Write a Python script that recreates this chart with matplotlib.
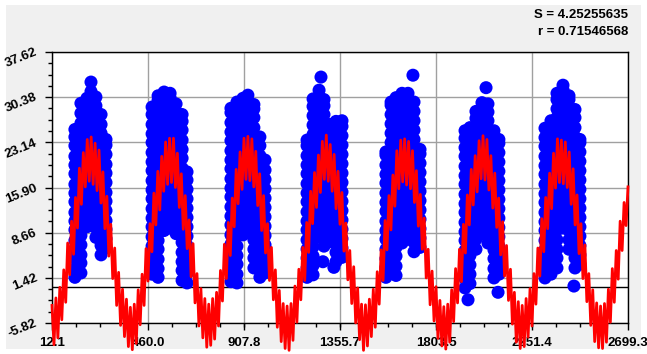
import numpy as np
import matplotlib.pyplot as plt
from matplotlib.patches import Rectangle
from matplotlib.ticker import AutoMinorLocator

plt.rcParams['font.family'] = ['Liberation Sans', 'DejaVu Sans']

# axis labels
x_labels = ["12.1", "460.0", "907.8", "1355.7", "1803.5", "2251.4", "2699.3"]
y_labels = ["-5.82", "1.42", "8.66", "15.90", "23.14", "30.38", "37.62"]

# fit statistics
s_value = "4.25255635"
r_value = "0.71546568"

# red model line, one list per year
red_year1 = [-3.0, -9.3, -1.8, -8.2, -0.1, -5.3, 2.7, -2.5, 7.0, 1.9, 10.5, 5.2, 14.3, 9.4, 19.0, 13.2, 21.5, 16.0, 23.6, 16.9,
             24.0, 16.4, 23.0, 15.4, 21.9, 13.4, 18.4, 9.3, 14.5, 4.9, 10.0, 1.3, 6.2, -3.0, 2.3, -6.2, -0.4, -8.0, -2.0, -9.6]
red_year2 = [-3.3, -10.1, -2.8, -9.1, -0.5, -6.1, 2.0, -3.0, 6.1, 0.9, 10.1, 5.6, 15.0, 9.9, 18.5, 12.3, 20.9, 15.3, 23.2, 16.4,
             23.8, 16.7, 23.8, 15.9, 21.4, 12.7, 18.1, 9.2, 14.6, 6.1, 10.7, 1.6, 6.9, -2.6, 2.1, -6.3, -0.3, -8.2, -1.9, -9.7]
red_year3 = [-2.8, -9.4, -1.9, -8.4, -0.9, -6.3, 2.6, -2.3, 6.8, 1.3, 10.3, 5.0, 14.2, 9.6, 18.8, 13.3, 21.6, 15.6, 23.8, 17.2,
             24.1, 17.0, 23.7, 16.0, 21.7, 13.0, 18.1, 9.0, 14.6, 5.4, 10.1, 1.0, 6.3, -2.1, 2.7, -6.5, -0.6, -8.8, -2.7, -9.9]
red_year4 = [-3.1, -10.2, -2.7, -8.6, 0.1, -5.7, 2.8, -2.1, 6.3, 1.0, 10.3, 5.5, 15.3, 10.1, 18.3, 12.7, 21.1, 15.1, 23.3, 17.2,
             24.3, 16.9, 22.8, 15.3, 21.2, 12.5, 18.5, 10.0, 15.1, 5.7, 10.2, 1.1, 5.8, -2.7, 3.2, -5.8, -0.2, -8.5, -2.8, -10.2]
red_year5 = [-2.9, -9.5, -2.0, -8.0, -0.4, -6.5, 2.4, -2.8, 5.9, 1.0, 10.6, 5.9, 14.6, 9.1, 17.9, 12.9, 21.8, 15.7, 23.5, 16.8,
             23.7, 16.3, 23.3, 15.7, 21.8, 13.5, 18.6, 9.7, 14.8, 6.0, 11.0, 1.4, 6.0, -2.9, 2.5, -5.5, 0.0, -8.3, -2.2, -9.5]
red_year6 = [-3.2, -10.0, -2.8, -8.9, -0.5, -5.6, 2.9, -2.6, 6.0, 0.8, 10.0, 5.4, 14.7, 9.9, 18.8, 13.1, 21.0, 15.2, 23.4, 17.3,
             24.2, 17.1, 23.6, 15.5, 21.0, 12.6, 18.2, 9.5, 14.2, 5.1, 10.4, 1.7, 6.6, -2.2, 2.8, -6.0, -0.9, -8.9, -2.4, -9.9]
red_year7 = [-3.0, -9.6, -1.9, -8.1, -0.3, -6.3, 2.1, -2.8, 6.2, 1.7, 10.9, 5.6, 14.3, 9.3, 18.2, 12.5, 21.4, 15.8, 23.7, 16.7,
             23.5, 16.5, 23.2, 15.9, 21.6, 13.2, 18.9, 9.9, 14.7, 5.3, 10.1, 1.3, 6.7, -2.4, 2.1, -6.2, -0.5, -8.8, -2.6, -9.8]
red_year8 = [-3.1, -9.9, -2.7, -8.9, -0.4, -5.7, 2.9, -2.5, 5.8, 1.2, 10.5, 5.8, 13.5, 9.8, 16.0]

# blue observations: per season the sample days and the values seen on each day
season1_days = [119, 147, 175, 194, 217, 241, 264]
season1_obs = [
    [1.5, 2.9, 4.6, 6.0, 7.4, 9.1, 10.5, 11.9, 13.6, 15.0, 16.4, 18.1, 19.5, 20.9, 22.6, 24.0, 25.2],
    [2.2, 3.8, 5.1, 6.7, 8.2, 9.6, 11.3, 12.7, 14.2, 15.8, 17.1, 18.7, 20.2, 21.6, 23.3, 24.7, 26.2, 27.8, 29.4],
    [9.6, 11.0, 12.6, 14.1, 15.5, 17.2, 18.6, 20.1, 21.7, 23.0, 24.6, 26.1, 27.5, 29.1, 30.2],
    [10.4, 11.9, 13.3, 14.9, 16.4, 17.8, 19.4, 20.9, 22.3, 23.9, 25.4, 26.8, 28.4, 29.9, 31.3, 32.8],
    [7.9, 9.4, 11.0, 12.5, 13.9, 15.5, 17.0, 18.4, 20.0, 21.5, 22.9, 24.5, 26.0, 27.4, 29.0, 30.4],
    [5.1, 6.6, 8.0, 9.6, 11.1, 12.5, 14.1, 15.6, 17.0, 18.6, 20.1, 21.5, 23.1, 24.6, 26.0, 27.6],
    [6.2, 7.7, 9.2, 10.6, 12.2, 13.7, 15.1, 16.7, 18.2, 19.6, 21.2, 22.7, 23.6],
]
season2_days = [479, 507, 535, 563, 591, 619, 642]
season2_obs = [
    [2.0, 3.5, 5.1, 6.5, 8.0, 9.6, 11.0, 12.5, 14.1, 15.5, 17.0, 18.6, 20.0, 21.5, 23.1, 24.5, 26.0, 27.6, 28.8],
    [1.5, 2.9, 4.4, 6.0, 7.4, 8.9, 10.5, 11.9, 13.4, 15.0, 16.4, 17.9, 19.5, 20.9, 22.4, 24.0, 25.4, 26.9, 28.5, 29.9, 30.6],
    [9.0, 10.6, 12.0, 13.5, 15.1, 16.5, 18.0, 19.6, 21.0, 22.5, 24.1, 25.5, 27.0, 28.6, 30.0, 31.2],
    [9.4, 10.8, 12.3, 13.9, 15.3, 16.8, 18.4, 19.8, 21.3, 22.9, 24.3, 25.8, 27.4, 28.8, 30.3, 31.0],
    [8.5, 10.0, 11.6, 13.0, 14.5, 16.1, 17.5, 19.0, 20.6, 22.0, 23.5, 25.1, 26.5, 28.0, 29.3],
    [1.0, 2.6, 4.0, 5.5, 7.1, 8.5, 10.0, 11.6, 13.0, 14.5, 16.1, 17.5, 19.0, 20.6, 22.0, 23.5, 25.1, 26.5, 27.6],
    [0.6, 2.1, 3.6, 5.1, 6.6, 8.1, 9.6, 11.1, 12.6, 14.1, 15.6, 17.1, 18.4],
]
season3_days = [847, 875, 903, 926, 954, 982, 1006]
season3_obs = [
    [0.8, 2.3, 3.8, 5.4, 6.8, 8.3, 9.9, 11.3, 12.8, 14.4, 15.8, 17.3, 18.9, 20.3, 21.8, 23.4, 24.8, 26.3, 27.9, 28.6],
    [0.6, 2.0, 3.6, 5.0, 6.5, 8.1, 9.5, 11.0, 12.6, 14.0, 15.5, 17.1, 18.5, 20.0, 21.6, 23.0, 24.5, 26.1, 27.5, 29.0, 29.6],
    [8.3, 9.8, 11.4, 12.8, 14.3, 15.9, 17.3, 18.8, 20.4, 21.8, 23.3, 24.9, 26.3, 27.8, 29.4, 30.2],
    [8.8, 10.3, 11.8, 13.3, 14.8, 16.3, 17.8, 19.3, 20.8, 22.3, 23.8, 25.3, 26.8, 28.3, 29.8, 30.7],
    [3.0, 4.6, 6.0, 7.5, 9.1, 10.5, 12.0, 13.6, 15.0, 16.5, 18.1, 19.5, 21.0, 22.6, 24.0, 25.5, 27.1, 28.5, 29.2],
    [1.5, 3.0, 4.6, 6.0, 7.5, 9.1, 10.5, 12.0, 13.6, 15.0, 16.5, 18.1, 19.5, 21.0, 22.6, 24.0],
    [2.2, 3.7, 5.2, 6.7, 8.2, 9.7, 11.2, 12.7, 14.2, 15.7, 17.2, 18.7, 20.3],
]
season4_days = [1202, 1230, 1258, 1281, 1309, 1337, 1365]
season4_obs = [
    [1.5, 3.0, 4.6, 6.0, 7.5, 9.1, 10.5, 12.0, 13.6, 15.0, 16.5, 18.1, 19.5, 21.0, 22.6, 23.5],
    [1.9, 3.4, 4.9, 6.4, 7.9, 9.4, 10.9, 12.4, 13.9, 15.4, 16.9, 18.4, 19.9, 21.4, 22.9, 24.4, 25.9, 27.4, 28.9, 30.1],
    [8.0, 9.5, 11.1, 12.5, 14.0, 15.6, 17.0, 18.5, 20.1, 21.5, 23.0, 24.6, 26.0, 27.5, 29.1, 30.5, 31.5],
    [6.5, 8.1, 9.6, 11.0, 12.6, 14.1, 15.5, 17.1, 18.6, 20.0, 21.6, 23.1, 24.5, 26.1, 27.6, 29.0, 30.0],
    [7.2, 8.7, 10.2, 11.7, 13.2, 14.7, 16.2, 17.7, 19.2, 20.7, 22.2, 23.7, 25.2, 26.0],
    [4.0, 5.5, 7.1, 8.5, 10.0, 11.6, 13.0, 14.5, 16.1, 17.5, 19.0, 20.6, 22.0, 23.5, 25.1, 26.5],
    [4.7, 6.2, 7.7, 9.2, 10.7, 12.2, 13.7, 15.2, 16.7, 18.2, 19.7, 21.2, 22.7, 24.2, 25.7, 26.6],
]
season5_days = [1570, 1594, 1617, 1645, 1673, 1701, 1729]
season5_obs = [
    [1.5, 3.1, 4.5, 6.0, 7.6, 9.0, 10.5, 12.1, 13.5, 15.0, 16.6, 18.0, 19.5, 21.1, 21.6],
    [2.1, 3.6, 5.1, 6.6, 8.1, 9.6, 11.1, 12.6, 14.1, 15.6, 17.1, 18.6, 20.1, 21.6, 23.1, 24.6, 26.1, 27.6, 29.1, 29.6],
    [1.8, 3.3, 4.9, 6.3, 7.8, 9.4, 10.8, 12.3, 13.9, 15.3, 16.8, 18.4, 19.8, 21.3, 22.9, 24.3, 25.8, 27.4, 28.8, 30.3],
    [7.0, 8.6, 10.0, 11.5, 13.1, 14.5, 16.0, 17.6, 19.0, 20.5, 22.1, 23.5, 25.0, 26.6, 28.0, 29.5, 31.0],
    [7.6, 9.1, 10.6, 12.1, 13.6, 15.1, 16.6, 18.1, 19.6, 21.1, 22.6, 24.1, 25.6, 27.1, 28.6, 30.1, 31.0],
    [5.6, 7.1, 8.6, 10.1, 11.6, 13.1, 14.6, 16.1, 17.6, 19.1, 20.6, 22.1, 23.6, 25.1, 26.6, 28.1, 29.6],
    [6.3, 7.8, 9.3, 10.8, 12.3, 13.8, 15.3, 16.8, 18.3, 19.8, 21.3, 22.0],
]
season6_days = [1939, 1962, 1990, 2018, 2046, 2074, 2097]
season6_obs = [
    [-0.2, 1.3, 2.9, 4.3, 5.8, 7.4, 8.8, 10.3, 11.9, 13.3, 14.8, 16.4, 17.8, 19.3, 20.9, 22.3, 23.8, 25.0],
    [0.5, 2.0, 3.5, 5.0, 6.5, 8.0, 9.5, 11.0, 12.5, 14.0, 15.5, 17.0, 18.5, 20.0, 21.5, 23.0, 24.5, 25.5],
    [6.0, 7.6, 9.0, 10.5, 12.1, 13.5, 15.0, 16.6, 18.0, 19.5, 21.1, 22.5, 24.0, 25.6, 27.0, 28.1],
    [8.5, 10.0, 11.5, 13.0, 14.5, 16.0, 17.5, 19.0, 20.5, 22.0, 23.5, 25.0, 26.5, 28.0, 29.5],
    [7.0, 8.6, 10.0, 11.5, 13.1, 14.5, 16.0, 17.6, 19.0, 20.5, 22.1, 23.5, 25.0, 26.6, 28.0, 29.3],
    [1.4, 2.9, 4.5, 5.9, 7.4, 9.0, 10.4, 11.9, 13.5, 14.9, 16.4, 18.0, 19.4, 20.9, 22.5, 23.9, 25.0],
    [2.0, 3.5, 5.0, 6.5, 8.0, 9.5, 11.0, 12.5, 14.0, 15.5, 17.0, 18.5, 20.0, 21.5, 23.0, 23.6],
]
season7_days = [2312, 2340, 2368, 2396, 2424, 2452, 2475]
season7_obs = [
    [1.4, 2.9, 4.5, 5.9, 7.4, 9.0, 10.4, 11.9, 13.5, 14.9, 16.4, 18.0, 19.4, 20.9, 22.5, 23.9, 25.4],
    [2.0, 3.5, 5.0, 6.5, 8.0, 9.5, 11.0, 12.5, 14.0, 15.5, 17.0, 18.5, 20.0, 21.5, 23.0, 24.5, 26.0, 26.6],
    [3.0, 4.6, 6.0, 7.5, 9.1, 10.5, 12.0, 13.6, 15.0, 16.5, 18.1, 19.5, 21.0, 22.6, 24.0, 25.5, 27.1, 28.5, 30.0, 31.0],
    [9.4, 10.9, 12.5, 13.9, 15.4, 17.0, 18.4, 19.9, 21.5, 22.9, 24.4, 26.0, 27.4, 28.9, 30.5, 31.6, 32.3],
    [6.0, 7.5, 9.0, 10.5, 12.0, 13.5, 15.0, 16.5, 18.0, 19.5, 21.0, 22.5, 24.0, 25.5, 27.0, 28.5, 30.0, 30.6],
    [3.0, 4.6, 6.0, 7.5, 9.1, 10.5, 12.0, 13.6, 15.0, 16.5, 18.1, 19.5, 21.0, 22.6, 24.0, 25.5, 27.1, 28.4],
    [3.6, 5.1, 6.6, 8.1, 9.6, 11.1, 12.6, 14.1, 15.6, 17.1, 18.6, 20.1, 21.6, 23.1, 23.6],
]

# single stray observations
stray_days = [1267, 1276, 1327, 1696, 1953, 2037, 2093, 2447]
stray_obs = [33.6, 4.0, 3.1, 33.9, -2.1, 31.9, -0.9, 0.1]

# flatten the observations
seasons = [(season1_days, season1_obs), (season2_days, season2_obs), (season3_days, season3_obs),
           (season4_days, season4_obs), (season5_days, season5_obs), (season6_days, season6_obs),
           (season7_days, season7_obs)]
obs_x = list(stray_days)
obs_y = list(stray_obs)
for days, cols in seasons:
    for d, ys in zip(days, cols):
        obs_x += [d] * len(ys)
        obs_y += ys

red_line = red_year1 + red_year2 + red_year3 + red_year4 + red_year5 + red_year6 + red_year7 + red_year8
red_days = np.linspace(12.1, 2699.3, len(red_line))

fig = plt.figure(figsize=(6.47, 3.54), dpi=100)
fig.patch.set_facecolor('white')
fig.add_artist(Rectangle((6 / 647, 5 / 354), 635 / 647, 344 / 354, transform=fig.transFigure,
                         facecolor='#f0f0f0', edgecolor='none', zorder=-1))
ax = fig.add_axes([52 / 647, 31 / 354, 576 / 647, 271 / 354])
ax.set_facecolor('white')

ax.axhline(0, color='black', lw=1, zorder=0.8)
ax.scatter(obs_x, obs_y, s=88, color='#0000ff', edgecolors='none', zorder=1)
ax.plot(red_days, red_line, color='#ff0000', lw=2, clip_on=False, zorder=3)

ax.set_xlim(12.1, 2699.3)
ax.set_ylim(-5.82, 37.62)
ax.set_xticks([float(t) for t in x_labels])
ax.set_xticklabels(x_labels, fontsize=9.5, fontweight='bold')
ax.set_yticks([float(t) for t in y_labels])
ax.set_yticklabels(y_labels, fontsize=9.5, fontweight='bold', rotation=22,
                   rotation_mode='anchor', ha='right', va='center')
ax.xaxis.set_minor_locator(AutoMinorLocator(4))
ax.yaxis.set_minor_locator(AutoMinorLocator(4))
ax.tick_params(which='major', length=5, width=1, direction='out')
ax.tick_params(which='minor', length=3, width=1, direction='out')
ax.tick_params(axis='x', pad=5)
ax.tick_params(axis='y', pad=6)

ax.grid(True, which='major', color='#a0a0a0', lw=1)
ax.set_axisbelow(True)
for sp in ax.spines.values():
    sp.set_color('black')
    sp.set_linewidth(1)

fig.text(628 / 647, 1 - 15 / 354, "S = " + s_value, ha='right', va='center', fontsize=9.5, fontweight='bold')
fig.text(628 / 647, 1 - 32 / 354, "r = " + r_value, ha='right', va='center', fontsize=9.5, fontweight='bold')

fig.savefig('out.png', dpi=100)
